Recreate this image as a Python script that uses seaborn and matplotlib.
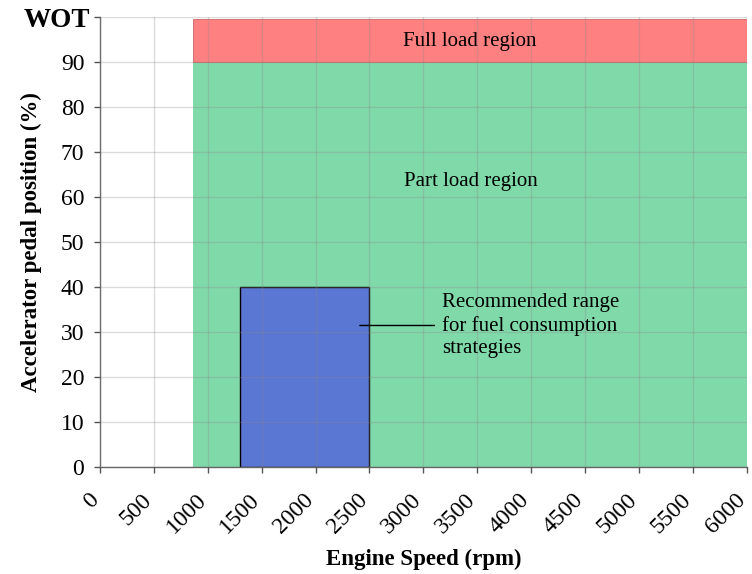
import numpy as np
import matplotlib
matplotlib.use("Agg")
import matplotlib.pyplot as plt
import matplotlib.transforms as mtransforms
import seaborn as sns

# regions of the operating map (rpm, pedal %)
region_names = ["Part load region", "Full load region", "Recommended"]
x_start = [860, 860, 1300]
x_end = [6000, 6000, 2500]
y_low = [0, 90, 0]
y_high = [90, 99.5, 40]
region_colors = ["#80d9a9", "#ff8080", "#5b77d4"]
region_edges = ["none", "#d06464", "black"]

x_ticks = list(range(0, 6001, 500))
y_ticks = list(range(0, 91, 10)) + [100]
y_tick_labels = [str(v) for v in range(0, 91, 10)] + ["WOT"]

sns.set_style("whitegrid")
plt.rcParams["font.family"] = ["Liberation Serif", "DejaVu Serif"]
plt.rcParams["text.color"] = "black"
plt.rcParams["axes.labelcolor"] = "black"

fig = plt.figure(figsize=(7.52, 5.74), dpi=100)
ax = fig.add_axes([0.133, 0.186, 0.860, 0.784])

widths = np.array(x_end) - np.array(x_start)
heights = np.array(y_high) - np.array(y_low)
for i in range(len(region_names)):
    ax.bar(x_start[i], heights[i], width=widths[i], bottom=y_low[i], align="edge",
           color=region_colors[i], edgecolor=region_edges[i],
           linewidth=1 if i == 2 else 0.6, zorder=1)

ax.set_axisbelow(False)
ax.grid(True, color="#888888", alpha=0.3, linewidth=1)

ax.text(3427, 94.7, "Full load region", ha="center", va="center", fontsize=15)
ax.text(3441, 63.6, "Part load region", ha="center", va="center", fontsize=15)
ax.annotate("Recommended range\nfor fuel consumption\nstrategies",
            xy=(2410, 31.5), xytext=(3172, 31.5), ha="left", va="center",
            fontsize=15, linespacing=1.25,
            arrowprops=dict(arrowstyle="-", color="black", lw=1, shrinkA=3, shrinkB=0))

ax.set_xlim(0, 6000)
ax.set_ylim(0, 100)

ax.tick_params(axis="both", direction="out", length=4.3, width=1, color="#555555",
               labelcolor="black", left=True, bottom=True)
ax.tick_params(axis="y", pad=7)
ax.tick_params(axis="x", pad=17)

ax.set_xticks(x_ticks)
ax.set_xticklabels([str(v) for v in x_ticks], rotation=45, ha="right", va="center",
                   rotation_mode="anchor", fontsize=17)
shift = mtransforms.ScaledTranslation(-3.5 / 72, 0, fig.dpi_scale_trans)
for lab in ax.get_xticklabels():
    lab.set_transform(lab.get_transform() + shift)
ax.set_yticks(y_ticks)
ax.set_yticklabels(y_tick_labels, fontsize=17)
wot = ax.get_yticklabels()[-1]
wot.set_fontweight("bold")
wot.set_fontsize(19.5)
wot.set_transform(wot.get_transform() +
                  mtransforms.ScaledTranslation(4 / 72, 0, fig.dpi_scale_trans))

for side in ["top", "right"]:
    ax.spines[side].set_visible(False)
for side in ["left", "bottom"]:
    ax.spines[side].set_visible(True)
    ax.spines[side].set_color("#666666")
    ax.spines[side].set_linewidth(1)

ax.set_xlabel("Engine Speed (rpm)", fontsize=16.5, fontweight="bold")
ax.set_ylabel("Accelerator pedal position (%)", fontsize=16.5, fontweight="bold")
ax.xaxis.set_label_coords(0.5, -0.182)
ax.yaxis.set_label_coords(-0.09, 0.5)

fig.savefig("out.png", dpi=100)
